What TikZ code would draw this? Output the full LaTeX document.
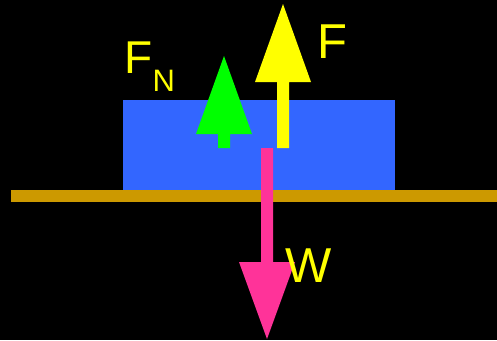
\documentclass[tikz,border=0pt]{standalone}
\usepackage{fontspec}
\setmainfont{Liberation Sans}
\definecolor{bgblack}{HTML}{000000}
\definecolor{groundc}{HTML}{CC9900}
\definecolor{boxc}{HTML}{3366FF}
\definecolor{fyel}{HTML}{FFFF00}
\definecolor{fgreen}{HTML}{00FF00}
\definecolor{fpink}{HTML}{FF3399}
\begin{document}
\begin{tikzpicture}[x=1pt,y=-1pt,
  lbl/.style={text=fyel,inner sep=0pt,anchor=base west}]
\fill[bgblack] (0,0) rectangle (497,340);
\useasboundingbox (0,0) rectangle (497,340);
% ground
\fill[groundc] (11,190) rectangle (497,202);
% block
\fill[boxc] (123,100) rectangle (395,190);
% normal force (green)
\fill[fgreen] (218,148) -- (218,134) -- (196,134) -- (224,56) -- (252,134) -- (230,134) -- (230,148) -- cycle;
% applied force F (yellow)
\fill[fyel] (277,148) -- (277,82) -- (255,82) -- (283,4) -- (311,82) -- (289,82) -- (289,148) -- cycle;
% weight W (pink)
\fill[fpink] (261,148) -- (261,262) -- (239,262) -- (267,339) -- (295,262) -- (273,262) -- (273,148) -- cycle;
% labels
\node[lbl,font=\fontsize{49}{49}\selectfont] (lF) at (317,58) {F};
\node[lbl,font=\fontsize{49}{49}\selectfont] (lW) at (285,282) {W};
\node[lbl,font=\fontsize{46}{46}\selectfont] (lFN) at (124,73) {F};
\node[lbl,font=\fontsize{31}{31}\selectfont] (lN) at (152.5,91) {N};
\end{tikzpicture}
\end{document}
